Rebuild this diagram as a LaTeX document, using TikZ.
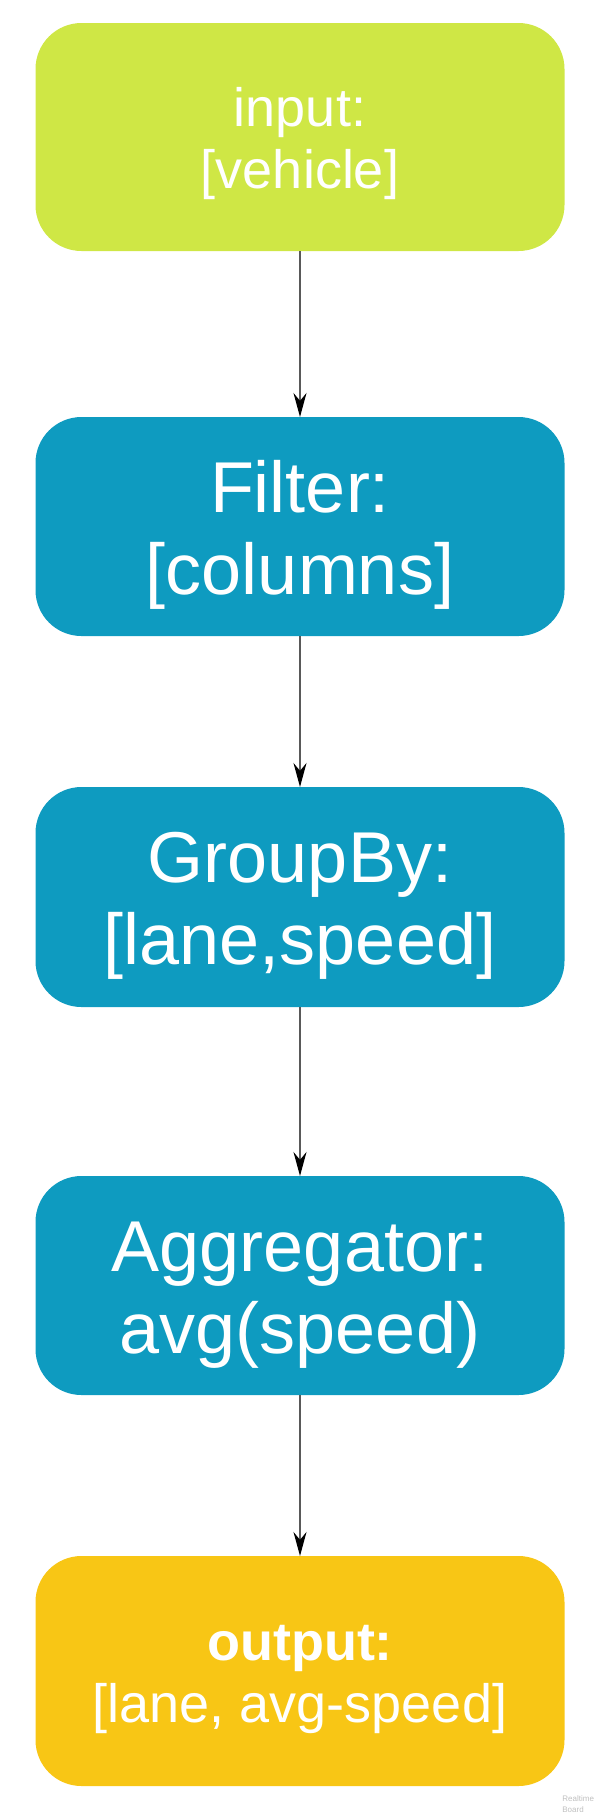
\documentclass[tikz,border=0pt]{standalone}
\usepackage{fontspec}
\setmainfont{Liberation Sans}
\usepackage{xcolor}
\usetikzlibrary{arrows.meta}

\definecolor{verdelima}{RGB}{207,231,69}
\definecolor{azul}{RGB}{14,155,192}
\definecolor{amarelo}{RGB}{248,198,21}
\newcommand{\alto}{\rule{0pt}{0.95em}}

\begin{document}
\begin{tikzpicture}[
  x=0.5pt, y=-0.5pt,
  >={Stealth[length=12pt, width=6.5pt, black]},
  bloco/.style={rounded corners=23pt, text=white, align=center,
                inner sep=0pt, outer sep=0pt, minimum width=264.5pt},
  extremo/.style={bloco, font=\fontsize{27}{31}\selectfont},
  etapa/.style={bloco, fill=azul, font=\fontsize{36}{41}\selectfont},
  seta/.style={->, line width=0.8pt, draw=black!65},
  marca/.style={text=black!25, font=\fontsize{4}{5.5}\selectfont,
                align=left, inner sep=0pt}
]
\useasboundingbox (0,0) rectangle (600,1817);

% ---------- Entrada ----------
\node[extremo, fill=verdelima, minimum height=114pt] (entrada) at (300,137) {\alto input:\\{}[vehicle]};

% ---------- Etapas do processamento ----------
\node[etapa, minimum height=109.5pt] (filtro)  at (300,526.5)  {\alto Filter:\\{}[columns]};
\node[etapa, minimum height=110pt]   (agrupa)  at (300,897)    {\alto GroupBy:\\{}[lane,speed]};
\node[etapa, minimum height=109.5pt] (agrega)  at (300,1285.5) {\alto Aggregator:\\avg(speed)};

% ---------- Saída ----------
\node[extremo, fill=amarelo, minimum height=115pt] (saida) at (300,1671) {\alto\textbf{output:}\\{}[lane, avg-speed]};

% ---------- Setas ----------
\draw[seta] (entrada) -- (filtro);
\draw[seta] (filtro) -- (agrupa);
\draw[seta] (agrupa) -- (agrega);
\draw[seta] (agrega) -- (saida);

\node[marca, anchor=north west] (rb) at (562,1795) {Realtime\\Board};

\end{tikzpicture}
\end{document}
